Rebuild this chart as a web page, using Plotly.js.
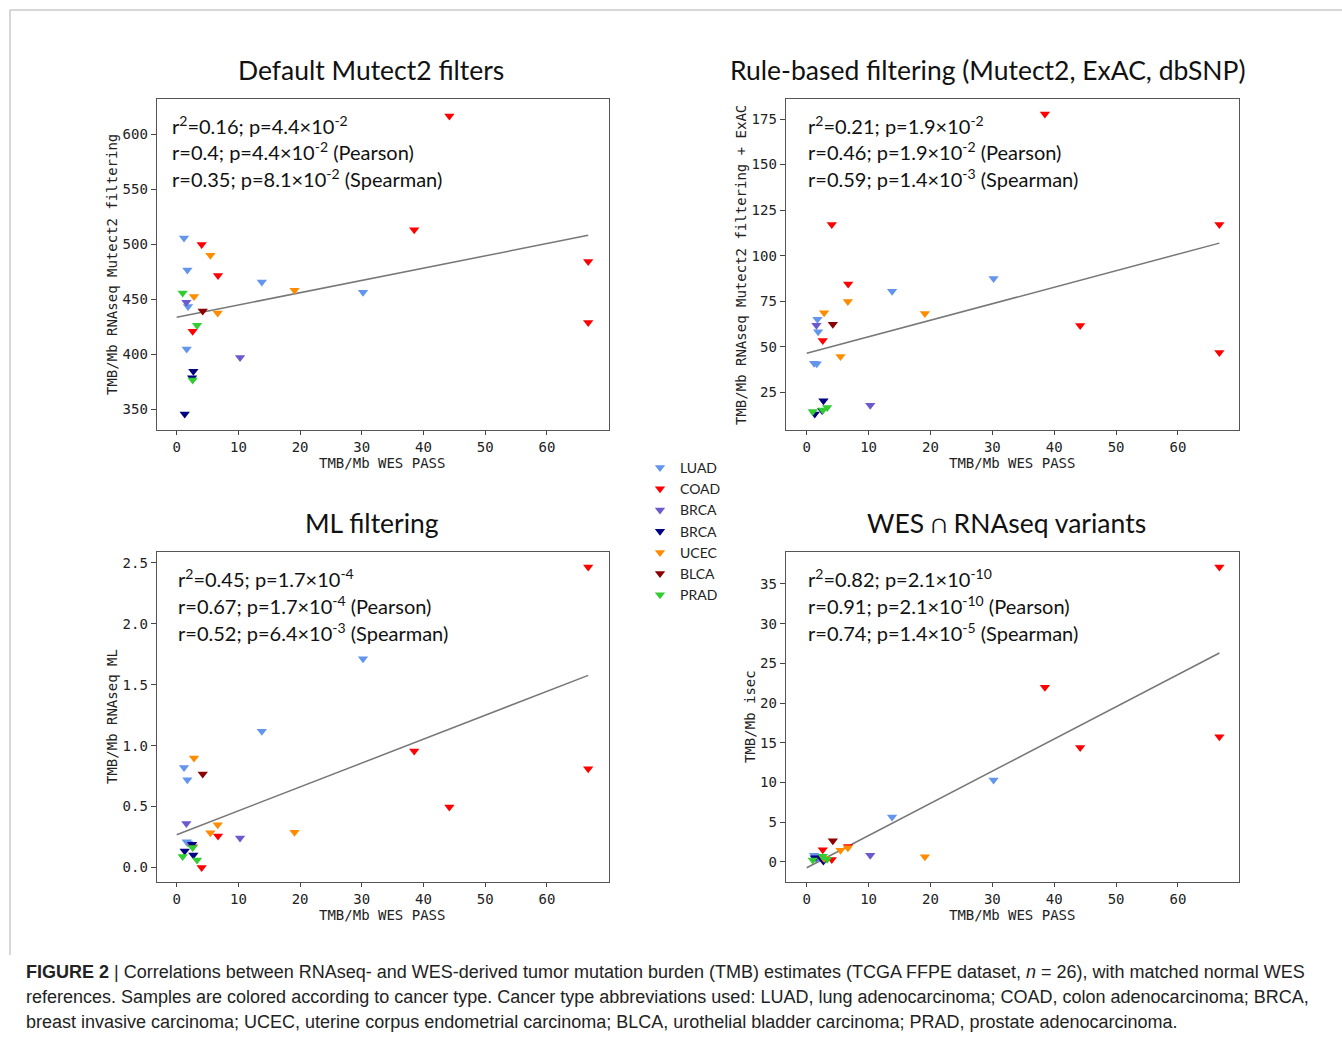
<!DOCTYPE html>
<html>
<head>
<meta charset="utf-8">
<script src="https://cdn.plot.ly/plotly-3.0.1.min.js"></script>
<style>html,body{margin:0;padding:0;background:#fff;}#chart{width:1342px;height:1039px;}</style>
</head>
<body>
<div id="chart"></div>
<script>
// ---------- DATA ----------
const categories = ['LUAD', 'COAD', 'BRCA', 'BRCA', 'UCEC', 'BLCA', 'PRAD'];

// TMB/Mb WES PASS (x) per category
const wesPass = [
  [1.19, 1.73, 13.8, 30.2, 1.84, 1.62],
  [44.2, 38.5, 4.05, 6.70, 66.7, 2.59, 66.7],
  [1.57, 10.27],
  [2.70, 2.50, 1.30],
  [5.46, 2.81, 19.1, 6.65],
  [4.22],
  [0.97, 3.30, 2.59]
];
// Default Mutect2 filters
const mutect2 = [
  [505.6, 476.4, 465.5, 456.2, 443.2, 404.6],
  [616.6, 513.1, 499.6, 471.5, 484.2, 420.9, 428.7],
  [447.1, 397.0],
  [384.4, 378.5, 345.5],
  [489.9, 452.5, 458.0, 437.5],
  [439.3],
  [455.6, 426.3, 376.5]
];
// Rule-based filtering (Mutect2, ExAC, dbSNP)
const ruleBased = [
  [41.0, 65.1, 80.5, 87.5, 58.3, 40.6],
  [61.6, 177.7, 117.1, 84.5, 117.1, 53.4, 46.8],
  [61.8, 17.9],
  [20.4, 15.0, 13.1],
  [44.6, 68.6, 68.2, 74.8],
  [62.4],
  [14.4, 16.6, 15.3]
];
// ML filtering
const mlFilter = [
  [0.821, 0.720, 1.117, 1.714, 0.200, 0.210],
  [0.496, 0.956, 0.000, 0.257, 2.467, 0.170, 0.811],
  [0.361, 0.241],
  [0.101, 0.190, 0.134],
  [0.285, 0.898, 0.288, 0.350],
  [0.767],
  [0.090, 0.060, 0.164]
];
// WES ∩ RNAseq variants
const isec = [
  [0.80, 0.60, 5.63, 10.3, 0.50, 0.70],
  [14.4, 21.97, 0.29, 1.90, 37.14, 1.51, 15.76],
  [0.50, 0.80],
  [0.10, 0.30, 0.50],
  [1.43, 0.40, 0.63, 1.76],
  [2.65],
  [0.20, 0.30, 0.70]
];
// regression line end points
const fitX = [0, 66.7];
const fitMutect2 = [433.5, 508.0];
const fitRule = [46.4, 106.9];
const fitML = [0.268, 1.577];
const fitIsec = [-0.76, 26.3];

// tick values
const xTicks = [0, 10, 20, 30, 40, 50, 60];
const yTicksMutect2 = [350, 400, 450, 500, 550, 600];
const yTicksRule = [25, 50, 75, 100, 125, 150, 175];
const yTicksML = [0.0, 0.5, 1.0, 1.5, 2.0, 2.5];
const yTicksIsec = [0, 5, 10, 15, 20, 25, 30, 35];

const panelTitles = ['Default Mutect2 filters', 'Rule-based filtering (Mutect2, ExAC, dbSNP)', 'ML filtering', 'WES \u2229 RNAseq variants'];
const yTitles = ['TMB/Mb RNAseq Mutect2 filtering', 'TMB/Mb RNAseq Mutect2 filtering + ExAC', 'TMB/Mb RNAseq ML', 'TMB/Mb isec'];
const xTitle = 'TMB/Mb WES PASS';
const statLines = [
  ['r<sup>2</sup>=0.16; p=4.4\u00d710<sup>-2</sup>', 'r=0.4; p=4.4\u00d710<sup>-2</sup> (Pearson)', 'r=0.35; p=8.1\u00d710<sup>-2</sup> (Spearman)'],
  ['r<sup>2</sup>=0.21; p=1.9\u00d710<sup>-2</sup>', 'r=0.46; p=1.9\u00d710<sup>-2</sup> (Pearson)', 'r=0.59; p=1.4\u00d710<sup>-3</sup> (Spearman)'],
  ['r<sup>2</sup>=0.45; p=1.7\u00d710<sup>-4</sup>', 'r=0.67; p=1.7\u00d710<sup>-4</sup> (Pearson)', 'r=0.52; p=6.4\u00d710<sup>-3</sup> (Spearman)'],
  ['r<sup>2</sup>=0.82; p=2.1\u00d710<sup>-10</sup>', 'r=0.91; p=2.1\u00d710<sup>-10</sup> (Pearson)', 'r=0.74; p=1.4\u00d710<sup>-5</sup> (Spearman)']
];
const captionLines = [
  '<b>FIGURE 2</b> | Correlations between RNAseq- and WES-derived tumor mutation burden (TMB) estimates (TCGA FFPE dataset, <i>n</i> = 26), with matched normal WES',
  'references. Samples are colored according to cancer type. Cancer type abbreviations used: LUAD, lung adenocarcinoma; COAD, colon adenocarcinoma; BRCA,',
  'breast invasive carcinoma; UCEC, uterine corpus endometrial carcinoma; BLCA, urothelial bladder carcinoma; PRAD, prostate adenocarcinoma.'
];

// ---------- STYLE / LAYOUT ----------
const W = 1342, H = 1039;
const colors = ['#6495ED', '#FF0000', '#6A5ACD', '#000080', '#FF8C00', '#8B0000', '#32CD32'];
const panelY = [mutect2, ruleBased, mlFilter, isec];
const panelFit = [fitMutect2, fitRule, fitML, fitIsec];
const panelYTicks = [yTicksMutect2, yTicksRule, yTicksML, yTicksIsec];
const yTickFormats = ['', '', '.1f', ''];
const axSuffix = ['', '2', '3', '4'];
// pixel boxes [left, right, top, bottom]
const boxes = [[157, 609, 99, 430], [786, 1239, 99, 430], [157, 609, 552, 882], [786, 1239, 552, 882]];
const xRanges = [[-3.19, 70.07], [-3.35, 69.87], [-3.19, 70.07], [-3.35, 69.87]];
const yRanges = [[331, 632], [4.3, 186], [-0.12, 2.59], [-2.56, 39.03]];
const titleCenters = [[371, 70], [988, 70], [372, 523], [1006, 523]];
const yTitlePos = [[112, 265], [741, 265], [112, 717], [750, 717]];
const xTitlePos = [[382, 463], [1012, 463], [382, 915], [1012, 915]];
const statPos = [[170, [125, 151, 178]], [806, [125, 151, 178]], [176, [578, 605, 632]], [806, [578, 605, 632]]];

const px = x => x / W;
const py = y => 1 - y / H;

const traces = [];
const layout = {
  width: W, height: H,
  margin: {l: 0, r: 0, t: 0, b: 0},
  paper_bgcolor: '#ffffff', plot_bgcolor: '#ffffff',
  showlegend: true,
  legend: {x: px(640), y: py(452), xanchor: 'left', yanchor: 'top', font: {family: 'Lato, sans-serif', size: 14, color: '#222'}, tracegroupgap: 0, itemwidth: 30, bgcolor: 'rgba(0,0,0,0)'},
  annotations: [],
  shapes: [
    {type: 'line', xref: 'paper', yref: 'paper', x0: px(10), x1: px(10), y0: py(10), y1: py(955), line: {color: '#b0b0b0', width: 1}},
    {type: 'line', xref: 'paper', yref: 'paper', x0: px(10), x1: 1, y0: py(10), y1: py(10), line: {color: '#b0b0b0', width: 1}}
  ]
};

for (let p = 0; p < 4; p++) {
  const s = axSuffix[p];
  const b = boxes[p];
  const tickFont = {family: 'DejaVu Sans Mono, monospace', size: 14, color: '#222'};
  layout['xaxis' + s] = {
    domain: [px(b[0]), px(b[1])], anchor: 'y' + s, range: xRanges[p],
    tickmode: 'array', tickvals: xTicks, ticktext: xTicks.map(String), ticks: 'outside', ticklen: 4, tickcolor: '#444', tickwidth: 1,
    showline: true, mirror: true, linecolor: '#555', linewidth: 1.3, showgrid: false, zeroline: false,
    tickfont: tickFont
  };
  layout['yaxis' + s] = {
    domain: [py(b[3]), py(b[2])], anchor: 'x' + s, range: yRanges[p],
    tickmode: 'array', tickvals: panelYTicks[p], tickformat: yTickFormats[p], ticks: 'outside', ticklen: 5, tickcolor: '#444', tickwidth: 1,
    showline: true, mirror: true, linecolor: '#555', linewidth: 1.3, showgrid: false, zeroline: false,
    tickfont: tickFont
  };
  // fit line
  traces.push({x: fitX, y: panelFit[p], xaxis: 'x' + s, yaxis: 'y' + s, mode: 'lines', line: {color: '#777', width: 1.5}, showlegend: false, hoverinfo: 'skip'});
  // scatter per category
  for (let c = 0; c < categories.length; c++) {
    traces.push({
      x: wesPass[c], y: panelY[p][c], xaxis: 'x' + s, yaxis: 'y' + s,
      mode: 'markers', type: 'scatter', name: categories[c], legendgroup: 'g' + c,
      showlegend: p === 0,
      marker: {symbol: 'triangle-down', size: 9, color: colors[c], line: {width: 0}}
    });
  }
  // titles
  layout.annotations.push({text: panelTitles[p], xref: 'paper', yref: 'paper', x: px(titleCenters[p][0]), y: py(titleCenters[p][1]), xanchor: 'center', yanchor: 'middle', showarrow: false, font: {family: 'Lato, sans-serif', size: 26.5, color: '#111'}});
  layout.annotations.push({text: yTitles[p], xref: 'paper', yref: 'paper', x: px(yTitlePos[p][0]), y: py(yTitlePos[p][1]), xanchor: 'center', yanchor: 'middle', textangle: -90, showarrow: false, font: {family: 'DejaVu Sans Mono, monospace', size: 14, color: '#222'}});
  layout.annotations.push({text: xTitle, xref: 'paper', yref: 'paper', x: px(xTitlePos[p][0]), y: py(xTitlePos[p][1]), xanchor: 'center', yanchor: 'middle', showarrow: false, font: {family: 'DejaVu Sans Mono, monospace', size: 14, color: '#222'}});
  for (let k = 0; k < 3; k++) {
    layout.annotations.push({text: statLines[p][k], xref: 'paper', yref: 'paper', x: px(statPos[p][0]), y: py(statPos[p][1][k]), xanchor: 'left', yanchor: 'middle', showarrow: false, font: {family: 'Lato, sans-serif', size: 20, color: '#111'}});
  }
}
// caption
const capY = [972, 997, 1022];
for (let k = 0; k < 3; k++) {
  layout.annotations.push({text: captionLines[k], xref: 'paper', yref: 'paper', x: px(24), y: py(capY[k]), xanchor: 'left', yanchor: 'middle', showarrow: false, font: {family: 'Liberation Sans, Arial, sans-serif', size: 18, color: '#222'}});
}

Plotly.newPlot('chart', traces, layout, {displayModeBar: false, staticPlot: true});
</script>
</body>
</html>
